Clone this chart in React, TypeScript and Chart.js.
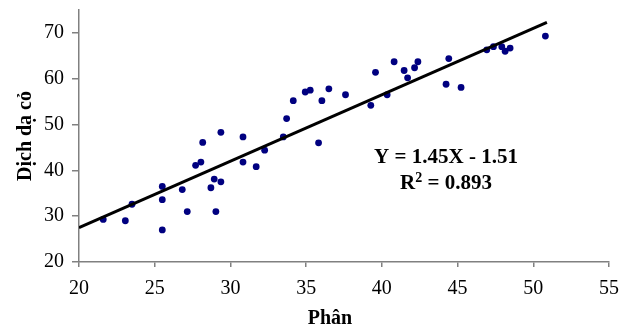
import React, { useEffect, useRef } from 'react';
import { Chart, registerables } from 'chart.js';

Chart.register(...registerables);

// ---- data ----
const phanX = [
  21.6, 23.06, 23.5, 25.5, 25.5, 25.5, 26.82, 27.15, 27.7, 28.05,
  28.17, 28.71, 28.93, 29.04, 29.37, 29.37, 30.83, 30.83, 31.7, 32.26,
  33.49, 33.71, 34.15, 34.94, 35.27, 35.82, 36.04, 36.5, 37.6, 39.27,
  39.58, 40.35, 40.81, 41.47, 41.7, 42.16, 42.38, 44.24, 44.42, 45.23,
  46.93, 47.37, 47.92, 48.14, 48.47, 50.8,
];
const dichY = [
  29.3, 29.0, 32.6, 27.0, 33.6, 36.5, 35.8, 31.0, 41.1, 41.8,
  46.1, 36.2, 38.1, 31.0, 37.5, 48.3, 41.8, 47.3, 40.8, 44.4,
  47.3, 51.3, 55.2, 57.1, 57.5, 46.0, 55.2, 57.8, 56.5, 54.2,
  61.4, 56.5, 63.7, 61.8, 60.2, 62.4, 63.7, 58.8, 64.4, 58.1,
  66.3, 67.0, 67.0, 66.0, 66.7, 69.3,
];
const trendX = [20, 50.9];
const trendY = [27.5, 72.3];

const xMin = 20;
const xMax = 55;
const xStep = 5;
const yMin = 20;
const yMax = 75;
const yStep = 10;

const xTitle = 'Phân';
const yTitle = 'Dịch dạ cỏ';
const eqText = 'Y = 1.45X - 1.51';
const r2Main = 'R';
const r2Sup = '2';
const r2Rest = ' = 0.893';

const FONT = '"Liberation Serif", "Times New Roman", serif';

const textPlugin = {
  id: 'textPlugin',
  afterDraw(chart: any) {
    const { ctx } = chart;
    ctx.save();
    ctx.fillStyle = '#000';
    ctx.textBaseline = 'alphabetic';

    // x title
    ctx.font = `bold 20px ${FONT}`;
    ctx.textAlign = 'center';
    ctx.fillText(xTitle, 330, 324);

    // y title
    ctx.save();
    ctx.translate(31, 136);
    ctx.rotate(-Math.PI / 2);
    ctx.textAlign = 'center';
    ctx.fillText(yTitle, 0, 0);
    ctx.restore();

    // equation
    ctx.font = `bold 21px ${FONT}`;
    ctx.textAlign = 'center';
    ctx.fillText(eqText, 446, 163);

    // R^2 line
    ctx.textAlign = 'left';
    ctx.font = `bold 21px ${FONT}`;
    const wR = ctx.measureText(r2Main).width;
    const wRest = ctx.measureText(r2Rest).width;
    ctx.font = `bold 14px ${FONT}`;
    const wSup = ctx.measureText(r2Sup).width;
    const total = wR + wSup + wRest;
    let x = 446 - total / 2;
    ctx.font = `bold 21px ${FONT}`;
    ctx.fillText(r2Main, x, 189);
    x += wR;
    ctx.font = `bold 14px ${FONT}`;
    ctx.fillText(r2Sup, x, 181.5);
    x += wSup;
    ctx.font = `bold 21px ${FONT}`;
    ctx.fillText(r2Rest, x, 189);
    ctx.restore();
  },
};

export default function App() {
  const canvasRef = useRef<HTMLCanvasElement | null>(null);

  useEffect(() => {
    if (!canvasRef.current) return;
    const chart = new Chart(canvasRef.current, {
      type: 'scatter',
      data: {
        datasets: [
          {
            label: 'Trend',
            data: trendX.map((x, i) => ({ x, y: trendY[i] })),
            showLine: true,
            borderColor: '#000000',
            borderWidth: 3,
            pointRadius: 0,
            fill: false,
            order: 0,
          } as any,
          {
            label: 'Data',
            data: phanX.map((x, i) => ({ x, y: dichY[i] })),
            backgroundColor: '#000080',
            borderColor: '#000080',
            pointRadius: 3.4,
            pointBorderWidth: 0,
            order: 1,
          },
        ],
      },
      options: {
        responsive: false,
        animation: false,
        devicePixelRatio: 1,
        layout: { padding: { top: 10, right: 11, left: 0, bottom: 0 } },
        plugins: {
          legend: { display: false },
          tooltip: { enabled: false },
        },
        scales: {
          x: {
            type: 'linear',
            min: xMin,
            max: xMax,
            ticks: {
              stepSize: xStep,
              font: { family: FONT, size: 20 },
              color: '#000',
              padding: 10,
              maxRotation: 0,
              autoSkip: false,
            },
            grid: {
              drawOnChartArea: false,
              drawTicks: true,
              tickLength: 5,
              color: '#808080',
              lineWidth: 1.5,
            },
            border: { color: '#808080', width: 1.5 },
            afterFit: (s: any) => {
              s.height = 65;
              s.paddingLeft = 0;
              s.paddingRight = 0;
            },
          },
          y: {
            type: 'linear',
            min: yMin,
            max: yMax,
            ticks: {
              stepSize: yStep,
              includeBounds: false,
              font: { family: FONT, size: 20 },
              color: '#000',
              padding: 8,
            },
            grid: {
              drawOnChartArea: false,
              drawTicks: true,
              tickLength: 7,
              color: '#808080',
              lineWidth: 1.5,
            },
            border: { color: '#808080', width: 1.5 },
            afterFit: (s: any) => {
              s.width = 79;
              s.paddingTop = 0;
              s.paddingBottom = 0;
            },
          },
        },
      },
      plugins: [textPlugin],
    });
    return () => chart.destroy();
  }, []);

  return (
    <div style={{ position: 'absolute', left: 0, top: 0, width: 620, height: 327, background: '#fff' }}>
      <canvas ref={canvasRef} width={620} height={327} />
    </div>
  );
}
